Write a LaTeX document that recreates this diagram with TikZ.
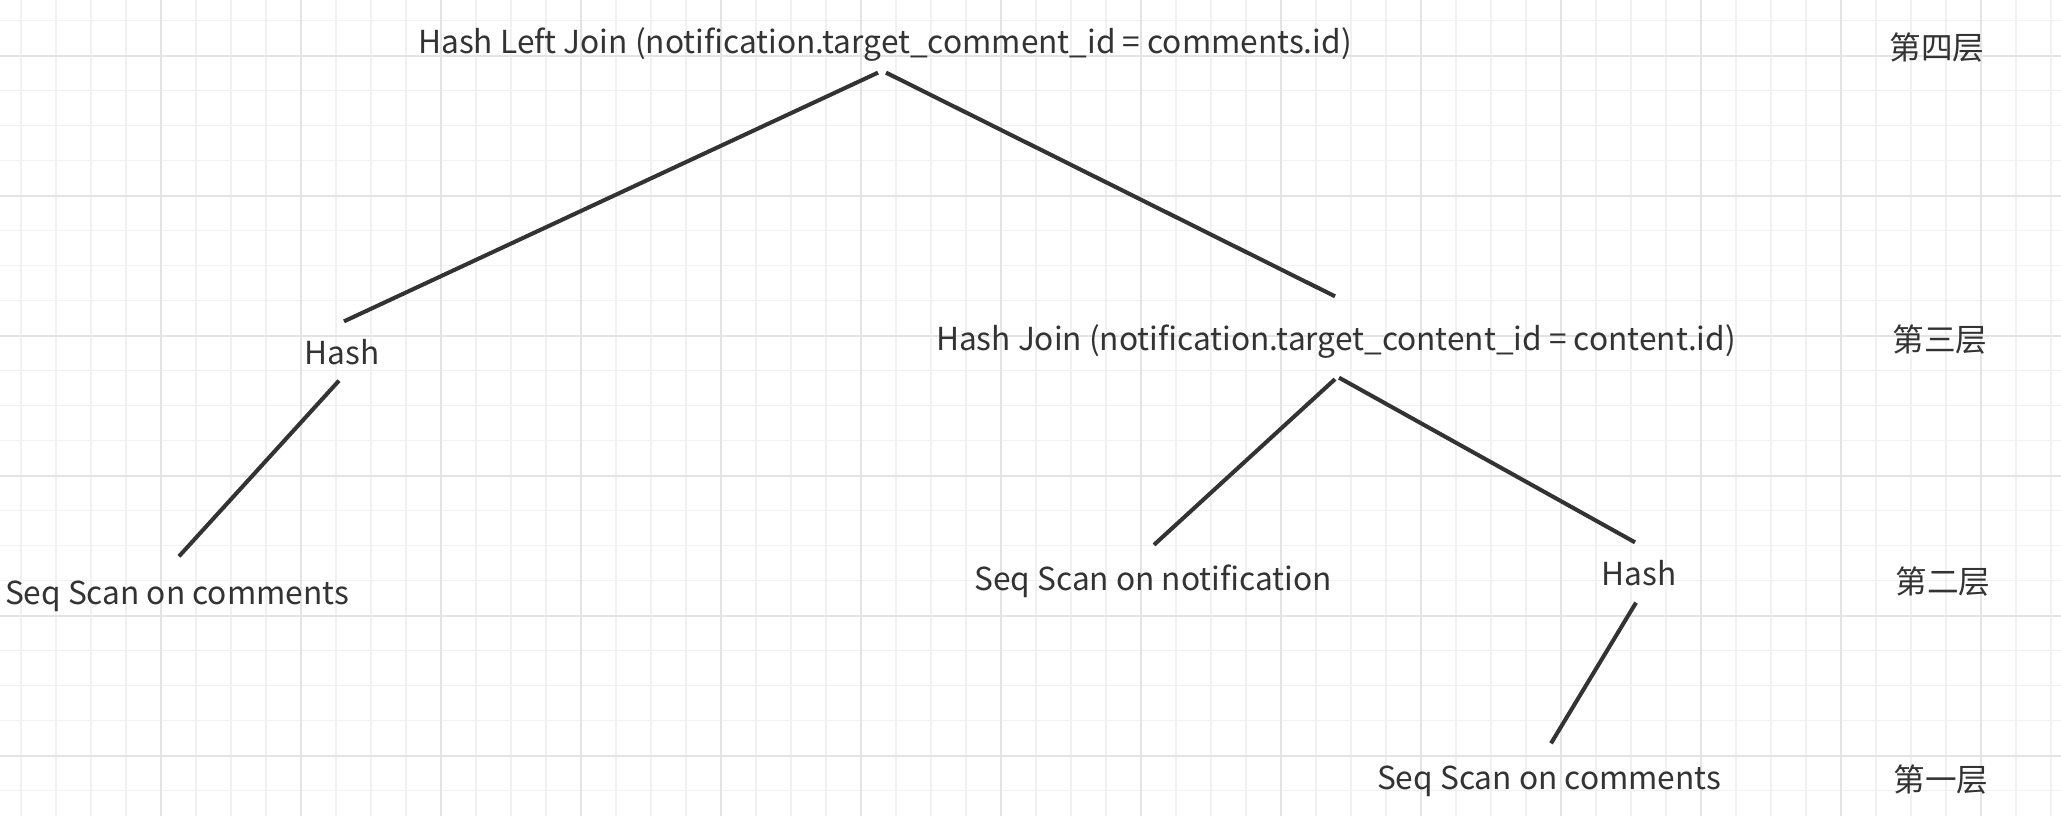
\documentclass[tikz,border=0pt]{standalone}
\usepackage{fontspec}
\setmainfont{Noto Sans CJK SC}
\usetikzlibrary{positioning}

\definecolor{ink}{HTML}{333333}
\definecolor{gridminor}{HTML}{F1F1F1}
\definecolor{gridmajor}{HTML}{E4E4E4}

\tikzset{
  plan/.style={inner sep=0pt, text=ink, font=\fontsize{9pt}{11pt}\selectfont,
    text height=6.5pt, text depth=2pt},
  layer/.style={plan},
  edge/.style={draw=ink, line width=1.15pt}
}

\begin{document}
\begin{tikzpicture}[x=0.01cm,y=-0.01cm]

  % background grid
  \fill[white] (0,0) rectangle (2061,816);
  \useasboundingbox (0,0) rectangle (2061,816);
  \foreach \i in {0,...,58} {
    \draw[gridminor, line width=0.4pt] (21+35*\i,0) -- (21+35*\i,816);
  }
  \foreach \j in {0,...,22} {
    \draw[gridminor, line width=0.4pt] (0,20.7+35*\j) -- (2061,20.7+35*\j);
  }
  \foreach \i in {0,...,13} {
    \draw[gridmajor, line width=0.5pt] (161+140*\i,0) -- (161+140*\i,816);
  }
  \foreach \j in {0,...,5} {
    \draw[gridmajor, line width=0.5pt] (0,55.7+140*\j) -- (2061,55.7+140*\j);
  }

  % plan nodes
  \node[plan] (root) at (885,46) {Hash Left Join (notification.target\_comment\_id = comments.id)};
  \node[plan] (hashL) at (342,357) {Hash};
  \node[plan] (seqL) at (177,596.5) {Seq Scan on comments};
  \node[plan] (join) at (1336,343) {Hash Join (notification.target\_content\_id = content.id)};
  \node[plan] (seqN) at (1153,583) {Seq Scan on notification};
  \node[plan] (hashR) at (1639,578) {Hash};
  \node[plan] (seqB) at (1549,782) {Seq Scan on comments};

  % layers
  \node[layer] (l4) at (1937,52) {第四层};
  \node[layer] (l3) at (1940,344) {第三层};
  \node[layer] (l2) at (1943,586) {第二层};
  \node[layer] (l1) at (1941,784) {第一层};

  % edges
  \draw[edge] ([shift={(-7,11)}]root.south) -- ([shift={(2,-20)}]hashL.north);
  \draw[edge] ([shift={(1,11)}]root.south) -- ([shift={(-1,-31)}]join.north);
  \draw[edge] ([shift={(-3,8)}]hashL.south) -- ([shift={(2,-24.5)}]seqL.north);
  \draw[edge] ([shift={(-1,20.5)}]join.south) -- ([shift={(1,-22.5)}]seqN.north);
  \draw[edge] ([shift={(3,19)}]join.south) -- ([shift={(-4,-20)}]hashR.north);
  \draw[edge] ([shift={(-3,9)}]hashR.south) -- ([shift={(2,-23)}]seqB.north);
\end{tikzpicture}
\end{document}
